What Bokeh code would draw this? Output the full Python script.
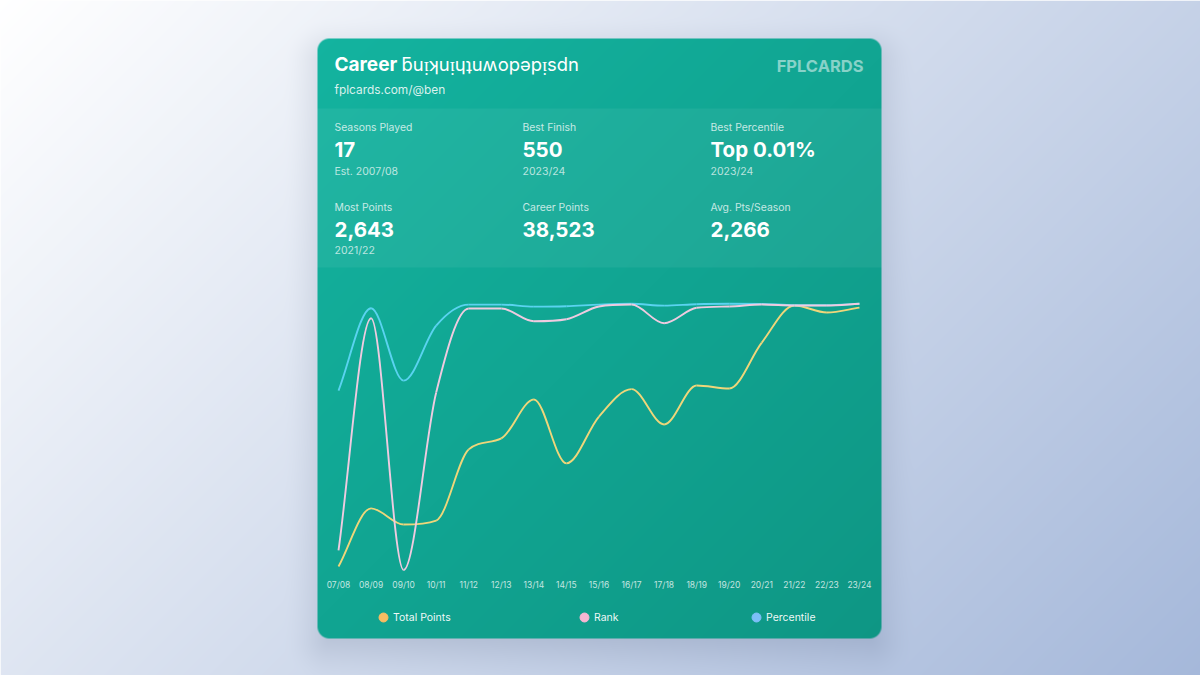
import numpy as np
from bokeh.core.properties import value
from bokeh.embed import file_html
from bokeh.models import ColumnDataSource, FixedTicker, LinearAxis, Range1d
from bokeh.plotting import figure
from bokeh.resources import INLINE

# ---- data ----
seasons = ["07/08", "08/09", "09/10", "10/11", "11/12", "12/13", "13/14", "14/15", "15/16",
           "16/17", "17/18", "18/19", "19/20", "20/21", "21/22", "22/23", "23/24"]
total_points = [1785, 1976, 1923, 1936, 2170, 2206, 2334, 2124, 2278,
                2368, 2252, 2380, 2370, 2521, 2643, 2620, 2636]
overall_rank = [1974000, 115800, 2130000, 710000, 38000, 38000, 139800, 123800, 22000,
                6200, 155800, 32600, 22000, 6200, 14000, 14000, 550]
percentile = [43.4, 2.2, 38.4, 10.9, 0.4, 0.4, 1.4, 1.2, 0.4,
              0.01, 0.9, 0.2, 0.01, 0.1, 0.7, 0.7, 0.01]

title_bold = "Career"
title_name = "ƃuᴉʞuᴉɥʇuʍopǝpᴉsdn"
subtitle = "fplcards.com/@ben"
logo = "FPLCARDS"
stat_labels = ["Seasons Played", "Best Finish", "Best Percentile", "Most Points", "Career Points", "Avg. Pts/Season"]
stat_values = ["17", "550", "Top 0.01%", "2,643", "38,523", "2,266"]
stat_notes = ["Est. 2007/08", "2023/24", "2023/24", "2021/22", "", ""]
legend_labels = ["Total Points", "Rank", "Percentile"]

# ---- layout (page pixels) ----
W, H, OFFX, OFFY = 1200, 675, 1, 0
X0, DX = 339.0, 32.56
CARD = (318, 38, 882, 638)
BAND = (108, 267)
stat_x = [335, 523, 711]
row_y = [(126.5, 148.5, 171), (207, 229, 250)]
legend_dot_x = [384, 585, 757]
legend_text_x = [393.5, 594.5, 766.5]
legend_y = 617
line_colors = {"points": "#efd67a", "rank": "#efcbe0", "pct": "#5ad3f0"}
dot_colors = ["#f8bd62", "#f7b7d3", "#7cbff8"]


def hexrgb(c):
    return np.array([int(c[i:i + 2], 16) for i in (1, 3, 5)], dtype=float)


def backdrop():
    ys, xs = np.mgrid[OFFY:OFFY + H, OFFX:OFFX + W] + 0.5

    def grad(x, y, w, h, a, b):
        t = (x - w / 2 + y - h / 2) / (w + h) + 0.5
        t = np.clip(t, 0, 1)[..., None]
        return hexrgb(a) * (1 - t) + hexrgb(b) * t

    def sdf(x, y, box, r):
        cx, cy = (box[0] + box[2]) / 2, (box[1] + box[3]) / 2
        qx = np.abs(x - cx) - (box[2] - box[0]) / 2 + r
        qy = np.abs(y - cy) - (box[3] - box[1]) / 2 + r
        return np.hypot(np.maximum(qx, 0), np.maximum(qy, 0)) + np.minimum(np.maximum(qx, qy), 0) - r

    img = grad(xs, ys, 1200, 675, "#ffffff", "#a5b8da")
    # soft card shadow
    d = sdf(xs, ys - 12, CARD, 12)
    s = np.clip(0.5 - d / 70, 0, 1)
    s = (s * s * (3 - 2 * s) * 0.2)[..., None]
    img = img * (1 - s) + hexrgb("#3b4a6b") * s
    # card
    cx, cy = xs - CARD[0], ys - CARD[1]
    card = grad(cx, cy, CARD[2] - CARD[0], CARD[3] - CARD[1], "#13b39f", "#0e9684")
    band = (ys >= BAND[0]) & (ys < BAND[1])
    card[band] = card[band] * 0.945 + 255 * 0.055
    m = np.clip(0.5 - sdf(xs, ys, CARD, 12), 0, 1)[..., None]
    img = img * (1 - m) + card * m
    img = np.clip(img + 0.5, 0, 255).astype(np.uint32)
    rgba = img[..., 0] | (img[..., 1] << 8) | (img[..., 2] << 16) | (255 << 24)
    return rgba[::-1].astype(np.uint32)


def monotone_segments(values):
    """Monotone cubic through the values, as Bezier segments (index x, value y)."""
    y = np.asarray(values, dtype=float)
    d = np.diff(y)
    m = np.zeros_like(y)
    m[0], m[-1] = d[0], d[-1]
    for i in range(1, len(y) - 1):
        m[i] = 0 if d[i - 1] * d[i] <= 0 else (d[i - 1] + d[i]) / 2
    for i in range(len(d)):
        if d[i] == 0:
            m[i] = m[i + 1] = 0
            continue
        a, b = m[i] / d[i], m[i + 1] / d[i]
        q = a * a + b * b
        if q > 9:
            tau = 3 / np.sqrt(q)
            m[i], m[i + 1] = a * tau * d[i], b * tau * d[i]
    x = np.arange(len(y), dtype=float)
    return ColumnDataSource(dict(
        x0=x[:-1], y0=y[:-1], x1=x[1:], y1=y[1:],
        cx0=x[:-1] + 1 / 3, cy0=y[:-1] + m[:-1] / 3,
        cx1=x[1:] - 1 / 3, cy1=y[1:] - m[1:] / 3))


def value_range(value_a, px_a, units_per_px):
    """Range for a hidden axis: value_a sits at page y px_a; values grow by units_per_px downward."""
    return Range1d(value_a + (OFFY + H - px_a) * units_per_px, value_a + (OFFY - px_a) * units_per_px)


p = figure(width=W, height=H, output_backend="svg", toolbar_location=None,
           x_axis_type=None, y_axis_type=None, min_border=0,
           x_range=Range1d((OFFX - X0) / DX, (OFFX + W - X0) / DX),
           y_range=Range1d(OFFY + H, OFFY))
p.outline_line_color = None
p.grid.visible = False
p.extra_x_ranges = {"px": Range1d(OFFX, OFFX + W)}
p.extra_y_ranges = {
    "img": Range1d(0, H),
    "points": value_range(2643, 305, -3.287),
    "rank": value_range(550, 303.3, 8000),
    "pct": value_range(0.01, 303.3, 0.5),
}

p.image_rgba(image=[backdrop()], x=OFFX, y=0, dw=W, dh=H, x_range_name="px", y_range_name="img")


def text(x, y, s, size, alpha=1.0, bold=False, align="left", font="Inter"):
    p.text(x=[x], y=[y], text=[s], x_range_name="px", text_font=value(font), text_font_size=f"{size}px",
           text_font_style="bold" if bold else "normal", text_color="#ffffff", text_alpha=alpha,
           text_align=align, text_baseline="middle")


text(335, 63.5, title_bold, 19, bold=True)
text(402, 63.5, title_name, 18.4)
text(335, 88.5, subtitle, 11.9, alpha=0.85)
text(864, 65.5, logo, 16.5, alpha=0.5, bold=True, align="right")

for i in range(6):
    x = stat_x[i % 3]
    y1, y2, y3 = row_y[i // 3]
    text(x, y1, stat_labels[i], 10.4, alpha=0.75)
    text(x, y2, stat_values[i], 20.5, bold=True)
    if stat_notes[i]:
        text(x, y3, stat_notes[i], 10.5, alpha=0.7)

for name, vals in (("points", total_points), ("pct", percentile), ("rank", overall_rank)):
    p.bezier(x0="x0", y0="y0", x1="x1", y1="y1", cx0="cx0", cy0="cy0", cx1="cx1", cy1="cy1",
             source=monotone_segments(vals), y_range_name=name,
             line_color=line_colors[name], line_width=1.9)

axis = LinearAxis(ticker=FixedTicker(ticks=list(range(len(seasons)))),
                  major_label_overrides={i: s for i, s in enumerate(seasons)},
                  fixed_location=579)
axis.axis_line_color = None
axis.major_tick_line_color = None
axis.minor_tick_line_color = None
axis.major_tick_out = 0
axis.major_label_standoff = 0
axis.major_label_text_font = "Inter"
axis.major_label_text_font_size = "8.5px"
axis.major_label_text_color = "#ffffff"
axis.major_label_text_alpha = 0.75
p.add_layout(axis, "below")

p.scatter(x=legend_dot_x, y=[legend_y] * 3, size=9, color=dot_colors, x_range_name="px")
for lx, s in zip(legend_text_x, legend_labels):
    text(lx, legend_y, s, 10.5, alpha=0.95)

open("out.html", "w").write(file_html(p, INLINE))
